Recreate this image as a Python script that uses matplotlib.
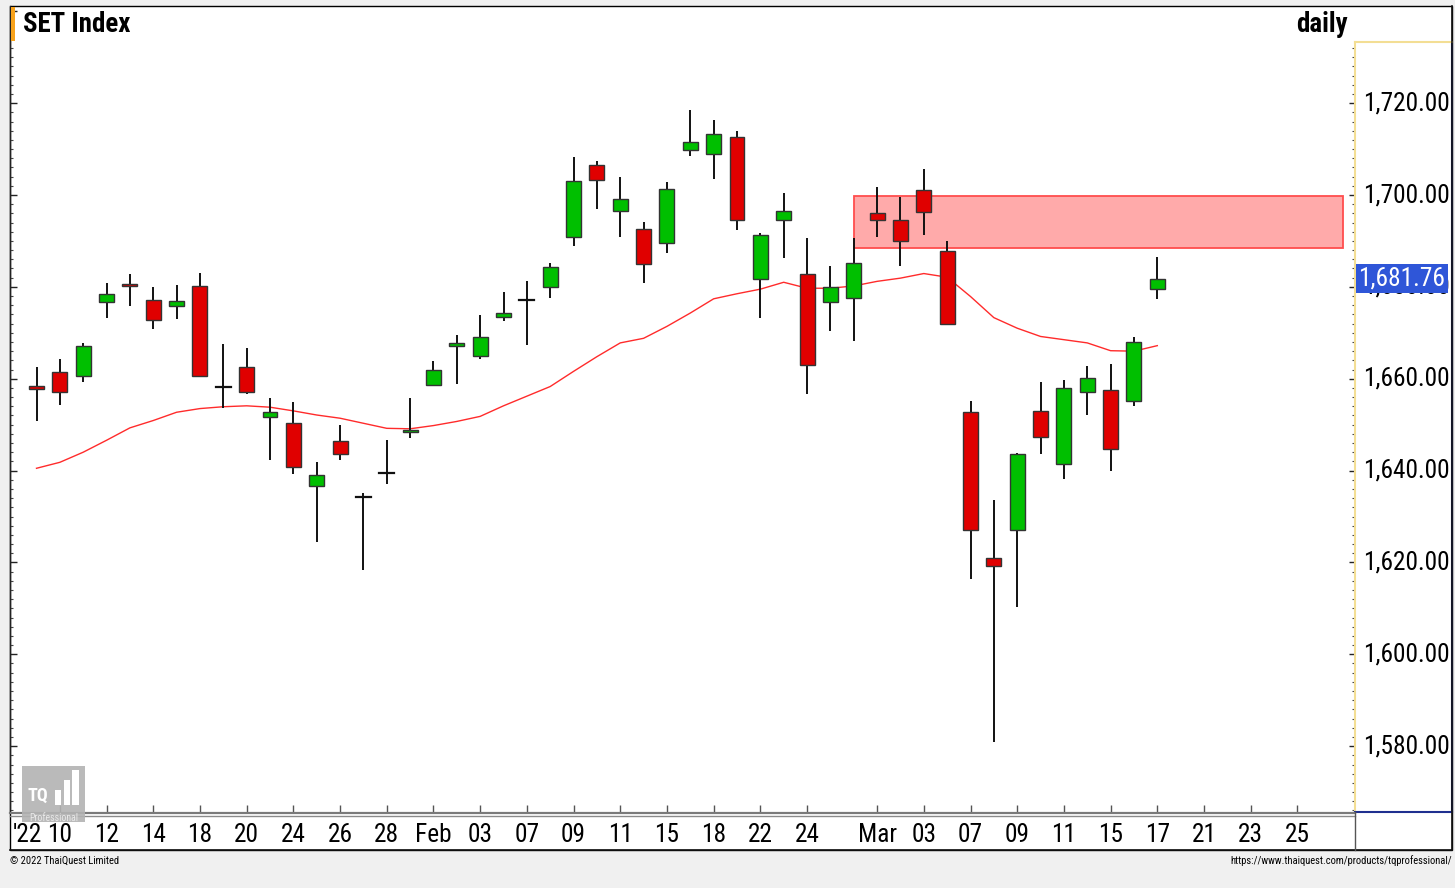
import matplotlib
matplotlib.use("Agg")
import matplotlib.pyplot as plt
from matplotlib import font_manager
from matplotlib.font_manager import FontProperties
from matplotlib.patches import Rectangle
from matplotlib.lines import Line2D
from matplotlib.ticker import MultipleLocator

# ---------------- data ----------------
dates = ["Jan 07", "Jan 10", "Jan 11", "Jan 12", "Jan 13", "Jan 14", "Jan 17", "Jan 18", "Jan 19", "Jan 20",
         "Jan 21", "Jan 24", "Jan 25", "Jan 26", "Jan 27", "Jan 28", "Jan 31", "Feb 01", "Feb 02", "Feb 03",
         "Feb 04", "Feb 07", "Feb 08", "Feb 09", "Feb 10", "Feb 11", "Feb 14", "Feb 15", "Feb 17", "Feb 18",
         "Feb 21", "Feb 22", "Feb 23", "Feb 24", "Feb 25", "Feb 28", "Mar 01", "Mar 02", "Mar 03", "Mar 04",
         "Mar 07", "Mar 08", "Mar 09", "Mar 10", "Mar 11", "Mar 14", "Mar 15", "Mar 16", "Mar 17"]
opens = [1658.5, 1661.4, 1660.5, 1676.6, 1680.7, 1677.2, 1675.9, 1680.2, 1658.3, 1662.5,
         1651.6, 1650.4, 1636.6, 1646.4, 1634.2, 1639.4, 1648.5, 1658.6, 1667.2, 1664.9,
         1673.5, 1677.1, 1679.9, 1690.8, 1706.5, 1696.6, 1692.7, 1689.5, 1709.7, 1708.9,
         1712.7, 1681.8, 1694.5, 1682.9, 1676.8, 1677.6, 1696.0, 1694.5, 1701.0, 1687.7,
         1652.7, 1620.9, 1627.0, 1653.0, 1641.4, 1657.0, 1657.5, 1655.1, 1679.5]
highs = [1662.6, 1664.3, 1667.8, 1680.8, 1682.8, 1680.0, 1680.4, 1683.0, 1667.5, 1666.7,
         1655.7, 1655.0, 1641.9, 1650.0, 1635.2, 1646.7, 1655.7, 1663.9, 1669.6, 1673.8,
         1678.8, 1681.2, 1685.2, 1708.2, 1707.5, 1704.0, 1694.2, 1702.8, 1718.6, 1716.3,
         1714.0, 1691.7, 1700.4, 1690.7, 1684.6, 1690.7, 1701.7, 1699.6, 1705.7, 1690.0,
         1655.2, 1633.5, 1643.8, 1659.3, 1659.8, 1662.8, 1663.3, 1669.0, 1686.5]
lows = [1650.7, 1654.3, 1659.3, 1673.2, 1675.9, 1670.9, 1673.0, 1660.3, 1653.6, 1656.7,
        1642.2, 1639.3, 1624.5, 1642.4, 1618.3, 1637.0, 1647.1, 1658.5, 1658.8, 1664.3,
        1672.6, 1667.4, 1677.6, 1689.0, 1697.0, 1690.9, 1680.9, 1687.3, 1708.5, 1703.5,
        1692.3, 1673.3, 1686.3, 1656.7, 1670.3, 1668.3, 1690.9, 1684.6, 1691.3, 1671.7,
        1616.3, 1581.0, 1610.4, 1643.6, 1638.2, 1652.1, 1640.0, 1654.0, 1677.3]
closes = [1657.8, 1657.2, 1667.2, 1678.5, 1680.2, 1672.8, 1676.9, 1660.5, 1658.3, 1657.2,
          1652.8, 1640.8, 1639.1, 1643.7, 1634.2, 1639.4, 1648.9, 1661.8, 1667.8, 1669.1,
          1674.3, 1677.1, 1684.3, 1703.1, 1703.3, 1699.1, 1684.9, 1701.4, 1711.6, 1713.3,
          1694.5, 1691.2, 1696.5, 1663.0, 1679.9, 1685.1, 1694.6, 1689.9, 1696.2, 1672.0,
          1627.0, 1619.3, 1643.6, 1647.4, 1658.0, 1660.1, 1644.7, 1667.9, 1681.76]
ma = [1640.5, 1641.8, 1644.0, 1646.6, 1649.3, 1650.9, 1652.7, 1653.5, 1653.9, 1654.1,
      1653.8, 1653.0, 1652.1, 1651.4, 1650.3, 1649.2, 1649.1, 1649.8, 1650.7, 1651.8,
      1654.1, 1656.2, 1658.3, 1661.6, 1664.8, 1667.8, 1668.8, 1671.4, 1674.3, 1677.4,
      1678.5, 1679.5, 1681.0, 1679.7, 1679.7, 1680.2, 1681.2, 1681.9, 1682.9, 1682.1,
      1677.9, 1673.3, 1671.0, 1669.2, 1668.5, 1667.8, 1666.1, 1666.0, 1667.2]

future_dates = ["Mar 18", "Mar 21", "Mar 22", "Mar 23", "Mar 24", "Mar 25", "Mar 28", "Mar 29"]
tick_dates = ["Jan 10", "Jan 12", "Jan 14", "Jan 18", "Jan 20", "Jan 24", "Jan 26", "Jan 28", "Feb 01",
              "Feb 03", "Feb 07", "Feb 09", "Feb 11", "Feb 15", "Feb 18", "Feb 22", "Feb 24", "Mar 01",
              "Mar 03", "Mar 07", "Mar 09", "Mar 11", "Mar 15", "Mar 17", "Mar 21", "Mar 23", "Mar 25"]
tick_labels = ["10", "12", "14", "18", "20", "24", "26", "28", "Feb", "03", "07", "09", "11", "15", "18",
               "22", "24", "Mar", "03", "07", "09", "11", "15", "17", "21", "23", "25"]
year_label = "'22"
y_ticks = [1580, 1600, 1620, 1640, 1660, 1680, 1700, 1720]
zone_low, zone_high = 1688.4, 1699.7
zone_start, zone_end = "Feb 28", "Mar 29"
last_price = closes[-1]

# ---------------- fonts (prefer a narrow Arial-like face) ----------------
def _w(f):
    w = f.weight
    if isinstance(w, str):
        w = font_manager.weight_dict.get(w, 400)
    return int(w)


def find_family(pref):
    tl = font_manager.fontManager.ttflist
    for name in pref:
        c = [f for f in tl if f.name == name and f.style == "normal"]
        if c:
            reg = min(c, key=lambda f: abs(_w(f) - 400))
            bold = min(c, key=lambda f: abs(_w(f) - 700))
            return reg.fname, bold.fname
    return None, None


reg_path, bold_path = find_family(["Liberation Sans Narrow", "Arial Narrow", "Roboto Condensed",
                                   "PT Sans Narrow", "Archivo Narrow", "Asap Condensed",
                                   "Barlow Semi Condensed", "Liberation Sans"])


def fprop(bold=False, size=12):
    p = bold_path if bold else reg_path
    if p is None:
        return FontProperties(family="DejaVu Sans", weight="bold" if bold else "normal", size=size)
    return FontProperties(fname=p, size=size)


W, H = 1455, 888
fig = plt.figure(figsize=(W / 100, H / 100), dpi=100, facecolor="#f0f0f0")
renderer = fig.canvas.get_renderer()


def fit_size(text, target_px, bold=False):
    t = fig.text(0, 0, text, fontproperties=fprop(bold, 20))
    w = t.get_window_extent(renderer=renderer).width
    t.remove()
    return 20 * target_px / w


SZ_LAB = fit_size("1,720.00", 87)
SZ_TITLE = fit_size("SET Index", 107, bold=True)
SZ_FOOT = fit_size("\u00a9 2022 ThaiQuest Limited", 110)


# ---------------- layout helpers ----------------
def add_px_axes(left, top, right, bottom, **kw):
    return fig.add_axes([left / W, 1 - bottom / H, (right - left) / W, (bottom - top) / H], **kw)


def fig_rect(left, top, right, bottom, **kw):
    r = Rectangle((left / W, 1 - bottom / H), (right - left) / W, (bottom - top) / H,
                  transform=fig.transFigure, **kw)
    fig.patches.append(r)
    return r


def fig_line(x0, y0, x1, y1, **kw):
    fig.lines.append(Line2D([x0 / W, x1 / W], [1 - y0 / H, 1 - y1 / H], transform=fig.transFigure, **kw))


fig_rect(10, 6, 1452, 850, facecolor="white", edgecolor="black", lw=1.0, zorder=0)

all_dates = dates + future_dates
xpos = {d: i for i, d in enumerate(all_dates)}
n = len(dates)

PX_PER_DAY = 23.35
X0_PX = 36.5
PX_PER_PT = 4.593
Y1700_PX = 195.0
xlim = ((10 - X0_PX) / PX_PER_DAY, (1355 - X0_PX) / PX_PER_DAY)


def ylim_for(top_px, bot_px):
    return (1700 - (bot_px - Y1700_PX) / PX_PER_PT, 1700 + (Y1700_PX - top_px) / PX_PER_PT)


# ---------------- main price axes ----------------
ax = add_px_axes(10, 6, 1355, 812)
ax.set_facecolor("none")
ax.set_zorder(3)
ax.set_xlim(*xlim)
ax.set_ylim(*ylim_for(6, 812))
for s in ["top", "right", "bottom"]:
    ax.spines[s].set_visible(False)
ax.spines["left"].set_color("#222222")
ax.spines["left"].set_linewidth(1.0)
ax.yaxis.set_major_locator(MultipleLocator(20))
ax.yaxis.set_minor_locator(MultipleLocator(2))
ax.tick_params(axis="y", which="major", direction="in", length=5, width=1, labelleft=False, color="#222")
ax.tick_params(axis="y", which="minor", direction="in", length=2.5, width=0.8, color="#444")

tpos = [xpos[d] for d in tick_dates]
ax.set_xticks([xpos["Jan 07"] - 1] + tpos)
ax.set_xticklabels([year_label] + tick_labels)
for lab in ax.get_xticklabels():
    lab.set_fontproperties(fprop(False, SZ_LAB))
ax.tick_params(axis="x", direction="in", length=5, width=1, color="#555", pad=8)
ax.get_xticklabels()[0].set_horizontalalignment("left")
ax.get_xticklines()[0].set_visible(False)

# supply zone
ax.add_patch(Rectangle((xpos[zone_start], zone_low), xpos[zone_end] - xpos[zone_start] - 0.05,
                       zone_high - zone_low, facecolor="#ffaaaa", edgecolor="#ff4d4d", lw=1.3, zorder=1))

# moving average
ax.plot(range(n), ma, color="#ff2b2b", lw=1.0, zorder=2)

# candles
bw = 0.64
for i in range(n):
    o, h, l, c = opens[i], highs[i], lows[i], closes[i]
    ax.plot([i, i], [l, h], color="#111111", lw=1.4, zorder=3, solid_capstyle="butt")
    if abs(c - o) < 0.05:
        ax.plot([i - bw / 2, i + bw / 2], [o, o], color="#111111", lw=1.6, zorder=4)
    else:
        col = "#00bf00" if c > o else "#e00000"
        ax.add_patch(Rectangle((i - bw / 2, min(o, c)), bw, abs(c - o), facecolor=col,
                               edgecolor="#333333", lw=1.0, zorder=4))

# titles
fig.text(23 / W, 1 - 24 / H, "SET Index", fontproperties=fprop(True, SZ_TITLE), va="center", ha="left",
         zorder=6)
fig.text(1348 / W, 1 - 24 / H, "daily", fontproperties=fprop(True, SZ_TITLE), va="center", ha="right",
         zorder=6)
fig_rect(11, 7, 15, 41, facecolor="#f7a21b", edgecolor="none", zorder=6)

# ---------------- right price scale ----------------
axr = add_px_axes(1355, 42, 1452, 812)
axr.set_facecolor("white")
axr.set_zorder(4)
axr.set_xlim(0, 1)
axr.set_ylim(*ylim_for(42, 812))
axr.set_xticks([])
axr.spines["left"].set_color("#f3de94")
axr.spines["top"].set_color("#f3de94")
axr.spines["right"].set_color("#1f2f8f")
axr.spines["bottom"].set_color("#1f2f8f")
for s in axr.spines.values():
    s.set_linewidth(1.5)
axr.yaxis.set_major_locator(MultipleLocator(20))
axr.yaxis.set_minor_locator(MultipleLocator(2))
axr.tick_params(axis="y", which="major", direction="out", length=4, width=1, labelleft=False, color="#222")
axr.tick_params(axis="y", which="minor", direction="out", length=2.5, width=0.8, color="#444")
ytr = axr.get_yaxis_transform()
for v in y_ticks:
    axr.text(0.085, v, f"{v:,.2f}", transform=ytr, fontproperties=fprop(False, SZ_LAB),
             va="center", ha="left")
axr.text(0.035, last_price, f"{last_price:,.2f}", transform=ytr, fontproperties=fprop(False, SZ_LAB),
         va="center", ha="left", color="white", zorder=10,
         bbox=dict(boxstyle="square,pad=0.1", facecolor="#2f56d8", edgecolor="none"))

# ---------------- frame details ----------------
fig_line(10, 812.5, 1355, 812.5, color="#7a7a7a", lw=1.6, zorder=7)
fig_line(10, 815.5, 1355, 815.5, color="#8a8a8a", lw=1.0, zorder=7)
fig_line(10, 850, 1452, 850, color="#111111", lw=1.2, zorder=7)
fig_line(1355, 812, 1355, 850, color="#555555", lw=1.0, zorder=7)
fig_line(1452, 6, 1452, 850, color="#111111", lw=1.2, zorder=7)

# logo watermark
axl = add_px_axes(22, 766, 85, 822)
axl.set_zorder(8)
axl.set_facecolor("#b3b3b3")
axl.patch.set_alpha(0.9)
for s in axl.spines.values():
    s.set_visible(False)
axl.set_xticks([])
axl.set_yticks([])
axl.set_xlim(0, 1)
axl.set_ylim(0, 1)
axl.text(0.08, 0.47, "TQ", fontproperties=fprop(True, 13), color="white", va="center")
for bx, bh in [(0.52, 0.28), (0.66, 0.45), (0.80, 0.62)]:
    axl.add_patch(Rectangle((bx, 0.30), 0.10, bh, facecolor="white", edgecolor="none"))
axl.text(0.5, 0.08, "Professional", fontproperties=fprop(False, 7), color="#e8e8e8", ha="center", va="center")

# footer
fig.text(10 / W, 1 - 861 / H, "\u00a9 2022 ThaiQuest Limited", fontproperties=fprop(False, SZ_FOOT),
         va="center", ha="left")
fig.text(1452 / W, 1 - 861 / H, "https://www.thaiquest.com/products/tqprofessional/",
         fontproperties=fprop(False, SZ_FOOT), va="center", ha="right")

fig.savefig("out.png", dpi=100, facecolor=fig.get_facecolor())
